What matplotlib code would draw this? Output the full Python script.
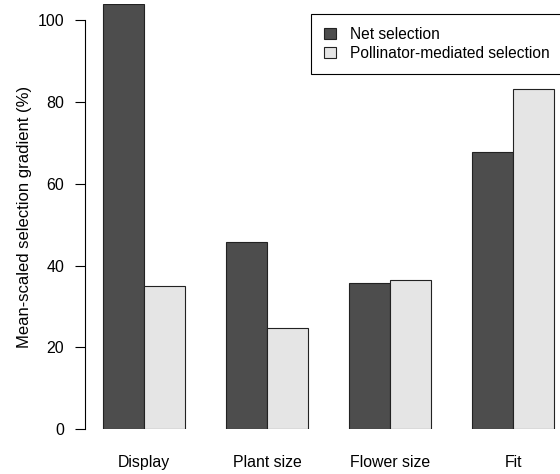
import numpy as np
import matplotlib.pyplot as plt

plt.rcParams['font.family'] = ['Liberation Sans', 'DejaVu Sans']

categories = ['Display', 'Plant size', 'Flower size', 'Fit']
net_selection = [103.9, 45.7, 35.8, 67.8]
pollinator_selection = [35.0, 24.7, 36.5, 83.2]
series_names = ['Net selection', 'Pollinator-mediated selection']

fig = plt.figure(figsize=(5.6, 4.74), dpi=100)
ax = fig.add_axes([85 / 560, (474 - 429) / 474, 475 / 560, 425 / 474])

x = np.arange(len(categories))
w = 0.333
ax.bar(x - w / 2, net_selection, w, color='#4d4d4d', edgecolor='#222222', linewidth=0.8,
       label=series_names[0])
ax.bar(x + w / 2, pollinator_selection, w, color='#e5e5e5', edgecolor='#222222', linewidth=0.8,
       label=series_names[1])

ax.set_xlim(-0.48, 3.382)
ax.set_ylim(0, 104)
for s in ['top', 'right', 'bottom']:
    ax.spines[s].set_visible(False)
ax.spines['left'].set_bounds(0, 100)
ax.spines['left'].set_linewidth(0.8)

ax.set_yticks([0, 20, 40, 60, 80, 100])
ax.tick_params(axis='y', length=7, width=0.8, pad=8, labelsize=11.5)
ax.set_xticks(x)
ax.set_xticklabels(categories)
ax.tick_params(axis='x', length=0, pad=19, labelsize=11.4)

ax.set_ylabel('Mean-scaled selection gradient (%)', fontsize=12)
ax.yaxis.set_label_coords(-53 / 475, 0.5)

leg = ax.legend(loc='upper left', bbox_to_anchor=(311 / 560, 1 - 14 / 474),
                bbox_transform=fig.transFigure, fancybox=False, edgecolor='black',
                framealpha=1, fontsize=11.2, handlelength=0.75, handleheight=0.75,
                handletextpad=0.9, borderpad=0.85, labelspacing=0.25, borderaxespad=0)
leg.get_frame().set_linewidth(0.8)

fig.savefig('out.png', dpi=100)
